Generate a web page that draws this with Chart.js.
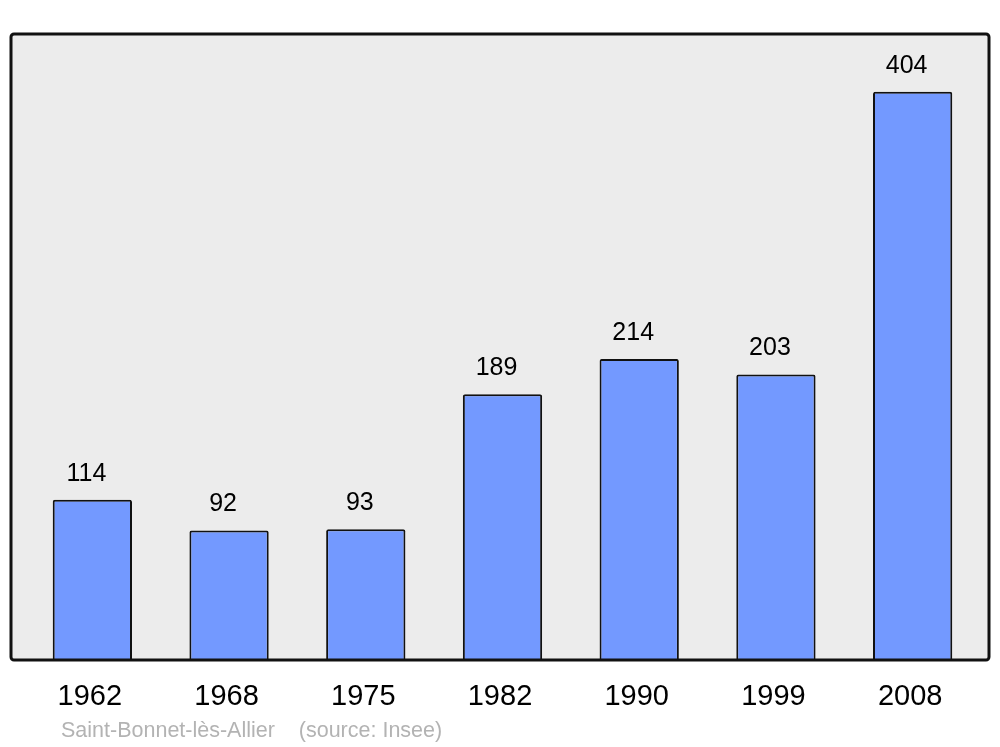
<!DOCTYPE html>
<html>
<head>
<meta charset="utf-8">
<script src="https://cdn.jsdelivr.net/npm/chart.js@4"></script>
<style>
  html, body { margin: 0; padding: 0; background: #fff; }
  #wrap { position: relative; width: 1000px; height: 747px; }
  #caption {
    position: absolute; left: 61px; top: 718px;
    font: 21.5px "Liberation Sans", Arial, sans-serif; color: #b3b3b3;
    white-space: pre;
  }
</style>
</head>
<body>
<div id="wrap">
  <canvas id="chart" width="1000" height="747"></canvas>
  <div id="caption">Saint-Bonnet-lès-Allier    (source: Insee)</div>
</div>
<script>
// Données
const years = ['1962', '1968', '1975', '1982', '1990', '1999', '2008'];
const population = [114, 92, 93, 189, 214, 203, 404];
const yMax = 445;

const font = '"Liberation Sans", Arial, sans-serif';

// Fond gris + cadre noir autour de la zone du graphique
const framePlugin = {
    id: 'frame',
    beforeDraw(chart) {
        const { ctx, chartArea: a } = chart;
        const x0 = a.left - 13, x1 = a.right + 8;
        ctx.save();
        ctx.fillStyle = '#ececec';
        ctx.beginPath();
        ctx.roundRect(x0, a.top, x1 - x0, a.bottom - a.top, 3);
        ctx.fill();
        ctx.restore();
    },
    afterDatasetsDraw(chart) {
        const { ctx, chartArea: a } = chart;
        const x0 = a.left - 13, x1 = a.right + 8;
        ctx.save();
        ctx.strokeStyle = '#111';
        ctx.lineWidth = 3;
        ctx.beginPath();
        ctx.roundRect(x0, a.top, x1 - x0, a.bottom - a.top, 3);
        ctx.stroke();

        // Valeurs au-dessus des barres
        ctx.fillStyle = '#000';
        ctx.font = '25px ' + font;
        ctx.textAlign = 'center';
        ctx.textBaseline = 'middle';
        chart.getDatasetMeta(0).data.forEach((bar, i) => {
            ctx.fillText(String(population[i]), bar.x - 6, bar.y - 26);
        });
        ctx.restore();
    }
};

new Chart(document.getElementById('chart'), {
    type: 'bar',
    data: {
        labels: years,
        datasets: [{
            data: population,
            backgroundColor: '#7399ff',
            borderColor: '#111',
            borderWidth: 2,
            borderRadius: 2,
            borderSkipped: 'start',
            categoryPercentage: 1,
            barPercentage: 0.58
        }]
    },
    options: {
        responsive: false,
        animation: false,
        layout: { padding: { left: 24, right: 19, top: 34, bottom: 0 } },
        plugins: {
            legend: { display: false },
            tooltip: { enabled: false }
        },
        scales: {
            x: {
                grid: { display: false, drawTicks: false },
                border: { display: false },
                ticks: {
                    color: '#000',
                    font: { family: font, size: 29 },
                    padding: 20,
                    labelOffset: -2.5,
                    maxRotation: 0
                },
                afterFit: scale => { scale.height = 87; }
            },
            y: {
                display: false,
                min: 0,
                max: yMax
            }
        }
    },
    plugins: [framePlugin]
});
</script>
</body>
</html>
